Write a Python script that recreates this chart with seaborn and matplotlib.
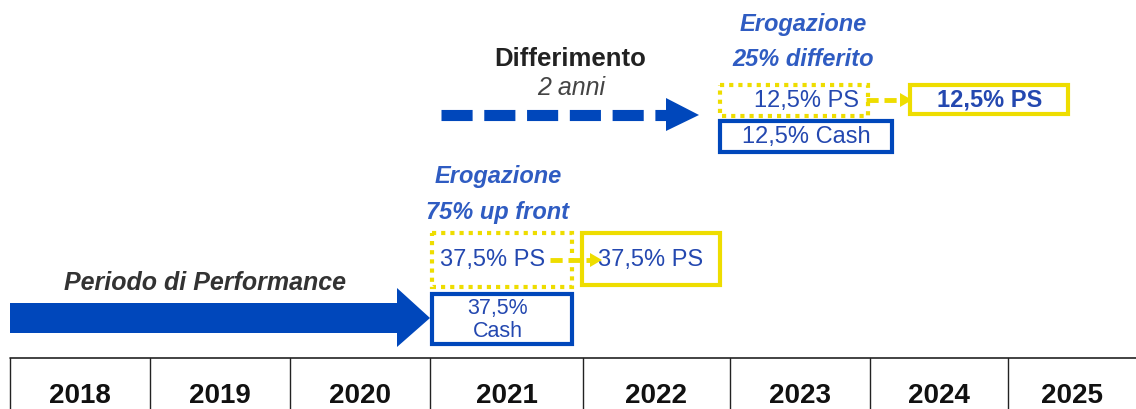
import matplotlib
matplotlib.use("Agg")
import matplotlib.pyplot as plt
import seaborn as sns
from matplotlib.patches import Rectangle, Polygon

sns.set_theme(style="white")
plt.rcParams['font.family'] = ['Liberation Sans', 'DejaVu Sans']

# data
years = ["2018", "2019", "2020", "2021", "2022", "2023", "2024", "2025"]
col_edges = [10, 150, 290, 430, 583, 730, 870, 1008, 1136]
upfront_title = "Erogazione\n75% up front"
deferred_title = "Erogazione\n25% differito"
upfront_ps = "37,5% PS"
upfront_cash = "37,5%\nCash"
deferred_ps = "12,5% PS"
deferred_cash = "12,5% Cash"
perf_label = "Periodo di Performance"
defer_label = "Differimento"
defer_years = "2 anni"

BLUE = "#0047BB"
TXT_BLUE = "#2448B0"
TITLE_BLUE = "#2F5CC2"
YELLOW = "#EEDD00"
DARK = "#333333"

fig = plt.figure(figsize=(11.36, 4.09), dpi=100)
ax = fig.add_axes([0, 0, 1, 1])
ax.set_xlim(0, 1136)
ax.set_ylim(409, 0)
ax.axis("off")

# year table
ax.plot([col_edges[0], col_edges[-1]], [358, 358], color="#222222", lw=1.2)
for x in col_edges[:-1]:
    ax.plot([x, x], [358, 409], color="#222222", lw=1.0)
for i, y in enumerate(years):
    xc = (col_edges[i] + col_edges[i + 1]) / 2
    ax.text(xc, 396, y, ha="center", va="center", fontsize=20,
            fontweight="bold", color="#111111")

# performance arrow
x0, x1 = col_edges[0], col_edges[3]
ax.add_patch(Polygon([(x0, 303), (x1 - 33, 303), (x1 - 33, 288), (x1, 318),
                      (x1 - 33, 347), (x1 - 33, 333), (x0, 333)],
                     closed=True, color=BLUE, lw=0))
ax.text(205, 283, perf_label, ha="center", va="center",
        fontsize=18, fontweight="bold", fontstyle="italic", color=DARK)


def box(x, y, w, h, color, dotted=False, lw=3):
    ax.add_patch(Rectangle((x, y), w, h, fill=False, edgecolor=color, lw=lw,
                           linestyle=(0, (1, 1.2)) if dotted else "-"))


def small_arrow(xa, xb, y):
    ax.plot([xa, xb - 10], [y, y], color=YELLOW, lw=3.5,
            linestyle=(0, (2.5, 1.2)), solid_capstyle="butt")
    ax.add_patch(Polygon([(xb - 12, y - 7), (xb, y), (xb - 12, y + 7)],
                         closed=True, color=YELLOW, lw=0))


# up front block (2021)
ux = col_edges[3]
ax.text(ux + 68, 176, upfront_title.split("\n")[0], ha="center", va="center",
        fontsize=17, fontweight="bold", fontstyle="italic", color=TITLE_BLUE)
ax.text(ux + 68, 212, upfront_title.split("\n")[1], ha="center", va="center",
        fontsize=17, fontweight="bold", fontstyle="italic", color=TITLE_BLUE)
box(ux + 2, 233, 140, 54, YELLOW, dotted=True)
ax.text(ux + 63, 260, upfront_ps, ha="center", va="center", fontsize=17,
        color=TXT_BLUE)
box(ux + 152, 233, 138, 52, YELLOW)
ax.text(ux + 221, 260, upfront_ps, ha="center", va="center", fontsize=17,
        color=TXT_BLUE)
small_arrow(ux + 120, ux + 172, 260)
box(ux + 2, 294, 140, 50, BLUE)
ax.text(ux + 68, 320, upfront_cash, ha="center", va="center", fontsize=15.5,
        color=TXT_BLUE, linespacing=1.1)

# deferral arrow
ax.plot([441, 668], [115, 115], color=BLUE, lw=8,
        linestyle=(0, (2.8, 1.05)), solid_capstyle="butt", dash_capstyle="butt")
ax.add_patch(Polygon([(666, 98), (699, 115), (666, 131)], closed=True,
                     color=BLUE, lw=0))
ax.text(570, 59, defer_label, ha="center", va="center", fontsize=18.5,
        fontweight="bold", color="#222222")
ax.text(571, 88, defer_years, ha="center", va="center", fontsize=18,
        fontstyle="italic", color="#444444")

# deferred block (2023)
dx = 720
ax.text(803, 25, deferred_title.split("\n")[0], ha="center", va="center",
        fontsize=17, fontweight="bold", fontstyle="italic", color=TITLE_BLUE)
ax.text(803, 60, deferred_title.split("\n")[1], ha="center", va="center",
        fontsize=17, fontweight="bold", fontstyle="italic", color=TITLE_BLUE)
box(dx, 85, 148, 31, YELLOW, dotted=True)
ax.text(806, 101, deferred_ps, ha="center", va="center", fontsize=17,
        color=TXT_BLUE)
box(910, 85, 158, 29, YELLOW)
ax.text(990, 100, deferred_ps, ha="center", va="center", fontsize=17,
        fontweight="bold", color=TXT_BLUE)
small_arrow(866, 912, 100)
box(dx, 121, 172, 31, BLUE)
ax.text(806, 137, deferred_cash, ha="center", va="center", fontsize=17,
        color=TXT_BLUE)

fig.savefig("out.png", dpi=100)
